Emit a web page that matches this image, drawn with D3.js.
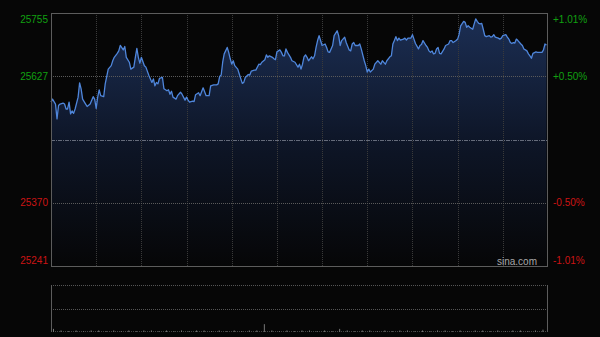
<!DOCTYPE html>
<html>
<head>
<meta charset="utf-8">
<script src="https://cdn.jsdelivr.net/npm/d3@7"></script>
<style>
  html, body { margin: 0; padding: 0; background: #060606; }
  svg { display: block; }
</style>
</head>
<body>
<div class="chart"></div>
<script>
        // minutes since the open, and the index level at that minute
        var minutes = [0, 1, 3, 4, 5, 6, 8, 9, 10, 11, 12, 13, 14, 15, 16, 18, 19, 20, 21, 23, 24, 26, 28, 29, 30, 31, 32, 33, 35, 36, 38, 40, 41, 42, 44, 45, 46, 48, 49, 50, 52, 53, 55, 56, 57, 58, 59, 60, 62, 63, 65,
            66, 67, 68, 69, 70, 71, 72, 74, 75, 77, 78, 79, 80, 81, 83, 84, 86, 87, 89, 90, 91, 92, 94, 95, 96, 98, 99, 101, 102, 103, 105, 106, 108, 110, 111, 112, 113, 114, 115, 117, 118, 119, 120, 121, 122, 124, 125, 127, 128, 129, 131,
            132, 133, 135, 136, 138, 139, 140, 142, 143, 144, 145, 147, 148, 149, 150, 152, 153, 154, 155, 156, 157, 159, 160, 162, 164, 165, 166, 167, 168, 169, 170, 171, 173, 174, 175, 176, 177, 178, 179, 180, 182, 183, 184, 185, 187, 188, 190, 191, 192, 193, 195, 196,
            198, 199, 200, 201, 202, 204, 205, 206, 208, 209, 210, 211, 212, 214, 215, 217, 219, 220, 222, 223, 225, 226, 227, 228, 229, 230, 231, 232, 234, 235, 236, 237, 239, 240, 241, 242, 244, 245, 246, 247, 249, 250, 251, 252, 253, 254, 255, 256, 257, 258, 259, 261, 262, 264,
            265, 266, 267, 269, 270, 271, 272, 274, 275, 276, 277, 278, 280, 281, 282, 283, 284, 285, 286, 287, 288, 289, 291, 292, 293, 294, 295, 297, 298, 299, 300, 302, 303, 304, 305, 306, 307, 308, 309, 310, 312, 313, 314, 315, 316, 317, 318, 319, 320, 322, 323, 325, 326, 327, 328, 329];

        var prices = [25574, 25580, 25570, 25540, 25567, 25570, 25572, 25570, 25560, 25560, 25574, 25550, 25556, 25551, 25560, 25584, 25613, 25601, 25580, 25570, 25565, 25570, 25585, 25580, 25561, 25584, 25599, 25587, 25585, 25611, 25641, 25648, 25658, 25665, 25673, 25678, 25689, 25680, 25687, 25665, 25655, 25641, 25645, 25665, 25683, 25665, 25653, 25665, 25648, 25645, 25628,
            25621, 25614, 25621, 25607, 25614, 25611, 25622, 25624, 25601, 25597, 25599, 25590, 25596, 25584, 25580, 25587, 25594, 25590, 25578, 25584, 25578, 25574, 25576, 25575, 25589, 25593, 25587, 25603, 25595, 25587, 25587, 25607, 25609, 25609, 25611, 25626, 25629, 25655, 25672, 25685, 25675, 25662, 25651, 25658, 25648, 25641, 25631, 25612, 25614, 25624, 25630,
            25629, 25637, 25639, 25639, 25651, 25650, 25655, 25660, 25670, 25665, 25668, 25665, 25662, 25660, 25676, 25680, 25675, 25668, 25668, 25682, 25675, 25665, 25658, 25655, 25645, 25651, 25641, 25651, 25666, 25670, 25665, 25658, 25666, 25662, 25668, 25685, 25699, 25709, 25699, 25689, 25692, 25685, 25676, 25675, 25689, 25709, 25719, 25709, 25689, 25699, 25706, 25695,
            25680, 25678, 25692, 25695, 25689, 25689, 25692, 25682, 25658, 25648, 25635, 25641, 25635, 25641, 25651, 25658, 25651, 25658, 25651, 25658, 25666, 25668, 25692, 25699, 25707, 25699, 25704, 25700, 25702, 25704, 25700, 25704, 25704, 25711, 25702, 25693, 25682, 25689, 25691, 25699, 25689, 25685, 25678, 25675, 25678, 25672, 25673, 25682, 25685, 25673, 25672, 25682, 25689, 25692,
            25699, 25699, 25695, 25699, 25702, 25712, 25729, 25738, 25736, 25726, 25729, 25726, 25722, 25733, 25743, 25738, 25734, 25733, 25734, 25722, 25709, 25707, 25709, 25706, 25707, 25711, 25706, 25704, 25702, 25704, 25709, 25711, 25706, 25702, 25695, 25693, 25695, 25694, 25702, 25699, 25692, 25689, 25682, 25680, 25678, 25672, 25668, 25663, 25673, 25676, 25675, 25675, 25675, 25680, 25692, 25690];

        // volume in 5 minute buckets
        var volumes = [4, 2, 1, 2, 1, 2, 2, 1, 2, 1, 2, 1, 2, 2, 1, 2, 1, 2, 1, 2, 2, 1, 2, 1, 2, 1, 2, 2, 10, 2, 1, 2, 1, 2, 2, 1, 2, 1, 4, 2, 1, 2, 2, 1, 2, 1, 2, 2, 1, 2, 1, 2, 2, 1, 2, 1, 2, 2, 1, 2, 1, 2, 2, 1, 2, 3];

        var prevClose = 25498;
        var priceTicks = [25755, 25627, 25370, 25241];
        var pctLabels = ["+1.01%", "+0.50%", "-0.50%", "-1.01%"];
        var gridTimes = [30, 60, 90, 120, 150, 180, 210, 240, 270, 300];

        var data = minutes.map(function (m, i) {
            return { t: m, p: prices[i] };
        });

        var plotLeft = 51, plotRight = 548, plotTop = 13, plotBottom = 266;
        var volTop = 285, volBottom = 332;

        //set canvas
        var svg = d3.select(".chart")
            .append("svg")
            .attr("width", 600)
            .attr("height", 337)
            .style("font-family", "'Liberation Sans', Arial, sans-serif")
            .style("font-size", "10px");

        svg.append("rect")
            .attr("width", 600)
            .attr("height", 337)
            .attr("fill", "#060606");

        //scales
        var x = d3.scaleLinear()
            .domain([0, 330])
            .range([plotLeft, plotRight]);

        var y = d3.scaleLinear()
            .domain([25241, 25755])
            .range([plotBottom, plotTop]);

        var yVol = d3.scaleLinear()
            .domain([0, 60])
            .range([volBottom, volTop]);

        //gradient under the line
        var defs = svg.append("defs");
        var grad = defs.append("linearGradient")
            .attr("id", "fade")
            .attr("gradientUnits", "userSpaceOnUse")
            .attr("x1", 0).attr("y1", plotTop)
            .attr("x2", 0).attr("y2", plotBottom);
        grad.append("stop").attr("offset", "0%").attr("stop-color", "#1c2f55");
        grad.append("stop").attr("offset", "50%").attr("stop-color", "#0e1628");
        grad.append("stop").attr("offset", "100%").attr("stop-color", "#060607");

        var area = d3.area()
            .x(function (d) { return x(d.t) })
            .y0(plotBottom)
            .y1(function (d) { return y(d.p) });

        svg.append("path")
            .datum(data)
            .attr("d", area)
            .attr("fill", "url(#fade)");

        //vertical grid
        svg.selectAll(".vgrid")
            .data(gridTimes)
            .enter()
            .append("line")
            .attr("class", "vgrid")
            .attr("x1", function (d) { return Math.round(x(d)) + 0.5 })
            .attr("x2", function (d) { return Math.round(x(d)) + 0.5 })
            .attr("y1", plotTop)
            .attr("y2", plotBottom)
            .attr("stroke", "#3a3a3a")
            .attr("stroke-dasharray", "1,1");

        //horizontal grid
        svg.selectAll(".hgrid")
            .data([priceTicks[1], priceTicks[2]])
            .enter()
            .append("line")
            .attr("class", "hgrid")
            .attr("x1", plotLeft)
            .attr("x2", plotRight)
            .attr("y1", function (d) { return Math.round(y(d)) + 0.5 })
            .attr("y2", function (d) { return Math.round(y(d)) + 0.5 })
            .attr("stroke", "#5a5a5a")
            .attr("stroke-dasharray", "1,1");

        //previous close line
        svg.append("line")
            .attr("x1", plotLeft)
            .attr("x2", plotRight)
            .attr("y1", Math.round(y(prevClose)) + 0.5)
            .attr("y2", Math.round(y(prevClose)) + 0.5)
            .attr("stroke", "#656b7a")
            .attr("stroke-dasharray", "4,1,1,1");

        //price line
        var line = d3.line()
            .x(function (d) { return x(d.t) })
            .y(function (d) { return y(d.p) });

        svg.append("path")
            .datum(data)
            .attr("d", line)
            .attr("fill", "none")
            .attr("stroke", "#4f86db")
            .attr("stroke-width", 1.3)
            .attr("stroke-linejoin", "round");

        //frame
        svg.append("rect")
            .attr("x", plotLeft + 0.5)
            .attr("y", plotTop + 0.5)
            .attr("width", plotRight - plotLeft - 1)
            .attr("height", plotBottom - plotTop)
            .attr("fill", "none")
            .attr("stroke", "#5c5c5c");

        //left and right labels
        function labelY(v) {
            return Math.max(plotTop + 6, Math.min(plotBottom - 6, y(v)));
        }

        svg.selectAll(".lab")
            .data(priceTicks)
            .enter()
            .append("text")
            .attr("class", "lab")
            .attr("x", plotLeft - 3)
            .attr("y", function (d) { return labelY(d) })
            .attr("dy", "0.35em")
            .attr("text-anchor", "end")
            .attr("fill", function (d) { return d > prevClose ? "#11a011" : "#cc1414" })
            .text(function (d) { return d });

        svg.selectAll(".pct")
            .data(priceTicks)
            .enter()
            .append("text")
            .attr("class", "pct")
            .attr("x", plotRight + 5)
            .attr("y", function (d) { return labelY(d) })
            .attr("dy", "0.35em")
            .attr("fill", function (d) { return d > prevClose ? "#11a011" : "#cc1414" })
            .text(function (d, i) { return pctLabels[i] });

        svg.append("text")
            .attr("x", 537)
            .attr("y", 265)
            .attr("text-anchor", "end")
            .attr("fill", "#a8a8a8")
            .text("sina.com");

        //volume panel
        svg.selectAll(".vline")
            .data([60, 30, 1])
            .enter()
            .append("line")
            .attr("class", "vline")
            .attr("x1", plotLeft)
            .attr("x2", plotRight)
            .attr("y1", function (d) { return Math.round(yVol(d)) + 0.5 })
            .attr("y2", function (d) { return Math.round(yVol(d)) + 0.5 })
            .attr("stroke", function (d) { return d == 1 ? "#444" : "#555" })
            .attr("stroke-dasharray", "1,1");

        svg.selectAll(".vol")
            .data(volumes)
            .enter()
            .append("rect")
            .attr("class", "vol")
            .attr("x", function (d, i) { return x(i * 5) + 2 })
            .attr("y", function (d) { return yVol(d) })
            .attr("width", 1)
            .attr("height", function (d) { return volBottom - yVol(d) })
            .attr("fill", "#777");

        svg.append("line")
            .attr("x1", plotLeft + 0.5).attr("x2", plotLeft + 0.5)
            .attr("y1", volTop).attr("y2", volBottom)
            .attr("stroke", "#5c5c5c");
        svg.append("line")
            .attr("x1", plotRight - 0.5).attr("x2", plotRight - 0.5)
            .attr("y1", volTop).attr("y2", volBottom)
            .attr("stroke", "#5c5c5c");
</script>
</body>
</html>
